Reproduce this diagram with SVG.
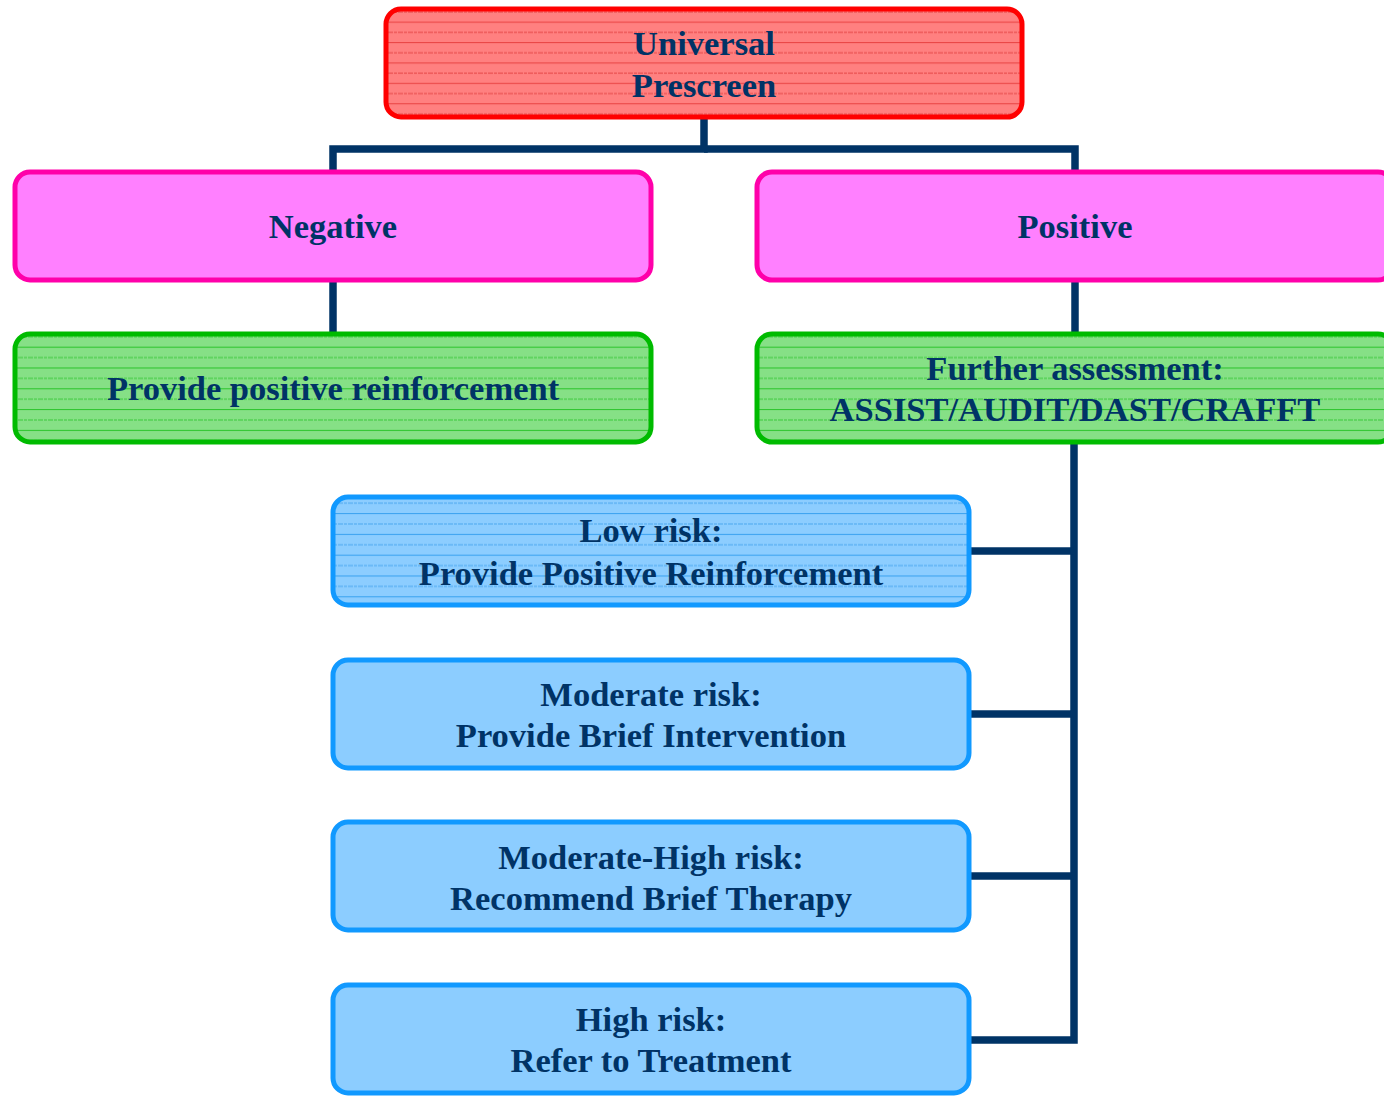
<svg xmlns="http://www.w3.org/2000/svg" width="1384" height="1096" viewBox="0 0 1384 1096">
<defs>
<pattern id="pRed" width="10" height="20.4" patternUnits="userSpaceOnUse" y="8">
<rect width="10" height="20.4" fill="#ff8080"/>
<line x1="0" y1="4" x2="10" y2="4" stroke="#ea5050" stroke-width="1" stroke-dasharray="3 1"/>
<line x1="0" y1="14.2" x2="10" y2="14.2" stroke="#e84040" stroke-width="1"/>
</pattern>
<pattern id="pGreen" width="10" height="20.8" patternUnits="userSpaceOnUse" y="1">
<rect width="10" height="20.8" fill="#86e086"/>
<line x1="0" y1="3" x2="10" y2="3" stroke="#3ac83a" stroke-width="1" stroke-dasharray="3 1"/>
<line x1="0" y1="13.4" x2="10" y2="13.4" stroke="#2cc42c" stroke-width="1"/>
</pattern>
<pattern id="pBlue" width="10" height="20.8" patternUnits="userSpaceOnUse" y="1">
<rect width="10" height="20.8" fill="#8ccdff"/>
<line x1="0" y1="3" x2="10" y2="3" stroke="#4aa8f0" stroke-width="1" stroke-dasharray="3 1"/>
<line x1="0" y1="13.4" x2="10" y2="13.4" stroke="#3aa2f0" stroke-width="1"/>
</pattern>
</defs>
<style>
.box{stroke-width:5}
.red{fill:url(#pRed);stroke:#ff0000}
.pink{fill:#ff80ff;stroke:#ff00aa}
.green{fill:url(#pGreen);stroke:#00bb00}
.blueS{fill:url(#pBlue);stroke:#1199ff}
.blue{fill:#8ccdff;stroke:#1199ff}
text{font-family:"Liberation Serif","Times New Roman",serif;font-weight:bold;font-size:34.5px;fill:#003366;text-anchor:middle}
.conn{stroke:#003366;stroke-width:7.5;fill:none;stroke-linejoin:miter}
</style>
<g id="connectors">
<polyline class="conn" points="704,117 704,149 333,149 333,171"/>
<polyline class="conn" points="704,149 1075,149 1075,171"/>
<line class="conn" x1="333" y1="280" x2="333" y2="334"/>
<line class="conn" x1="1075" y1="280" x2="1075" y2="334"/>
<polyline class="conn" points="1074,442 1074,1040 969,1040"/>
<line class="conn" x1="969" y1="551" x2="1074" y2="551"/>
<line class="conn" x1="969" y1="714" x2="1074" y2="714"/>
<line class="conn" x1="969" y1="876" x2="1074" y2="876"/>
</g>
<g id="universal">
<rect class="box red" x="386" y="9" width="636" height="108" rx="15"/>
<text x="704" y="55">Universal</text>
<text x="704" y="97">Prescreen</text>
</g>
<g id="negative">
<rect class="box pink" x="15" y="172" width="636" height="108" rx="15"/>
<text x="333" y="238">Negative</text>
</g>
<g id="positive">
<rect class="box pink" x="757" y="172" width="636" height="108" rx="15"/>
<text x="1075" y="238">Positive</text>
</g>
<g id="reinforce">
<rect class="box green" x="15" y="334" width="636" height="108" rx="15"/>
<text x="333" y="400">Provide positive reinforcement</text>
</g>
<g id="further">
<rect class="box green" x="757" y="334" width="636" height="108" rx="15"/>
<text x="1075" y="380">Further assessment:</text>
<text x="1075" y="421">ASSIST/AUDIT/DAST/CRAFFT</text>
</g>
<g id="low">
<rect class="box blueS" x="333" y="497" width="636" height="108" rx="15"/>
<text x="651" y="542">Low risk:</text>
<text x="651" y="585">Provide Positive Reinforcement</text>
</g>
<g id="moderate">
<rect class="box blue" x="333" y="660" width="636" height="108" rx="15"/>
<text x="651" y="706">Moderate risk:</text>
<text x="651" y="747">Provide Brief Intervention</text>
</g>
<g id="modhigh">
<rect class="box blue" x="333" y="822" width="636" height="108" rx="15"/>
<text x="651" y="869">Moderate-High risk:</text>
<text x="651" y="910">Recommend Brief Therapy</text>
</g>
<g id="high">
<rect class="box blue" x="333" y="985" width="636" height="108" rx="15"/>
<text x="651" y="1031">High risk:</text>
<text x="651" y="1072">Refer to Treatment</text>
</g>
</svg>
